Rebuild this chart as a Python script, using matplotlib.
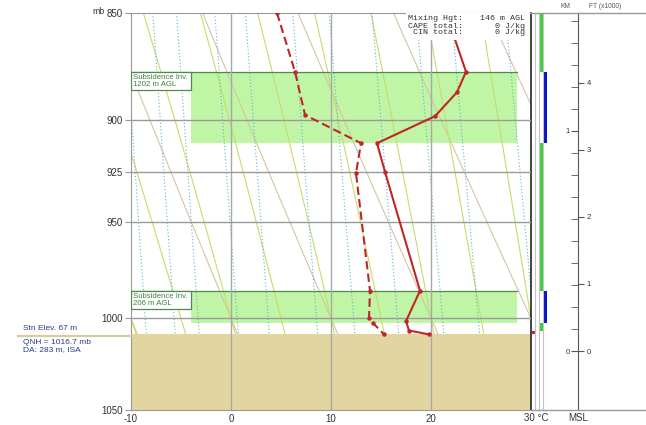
import numpy as np
import matplotlib
matplotlib.use('Agg')
import matplotlib.pyplot as plt
from matplotlib.patches import Rectangle
from matplotlib.lines import Line2D

# ---------------- data ----------------
temp_p = [850, 877, 886.6, 898, 911, 925, 985.4, 1001.5, 1006.5, 1008.6]
temp_c = [21.5, 23.5, 22.6, 20.4, 14.6, 15.4, 18.9, 17.5, 17.8, 19.8]
dew_p = [850, 877, 897.4, 911, 925.7, 985.4, 1000, 1002.5, 1008.6]
dew_c = [4.6, 6.4, 7.4, 13.0, 12.5, 13.9, 13.8, 14.2, 15.3]

inv_top_p = [877, 985.4]
inv_base_p = [911, 1002.4]
inv_labels = ['Subsidence Inv.\n1202 m AGL', 'Subsidence Inv.\n206 m AGL']
inv_x = [-4.0, 28.6]

stn_p = 1008.6
stn_text = ['Stn Elev. 67 m', 'QNH = 1016.7 mb', 'DA: 283 m, ISA']
info_labels = ['Mixing Hgt:', 'CAPE total:', 'CIN total:']
info_values = ['146 m AGL', '0 J/kg', '0 J/kg']

p_ticks = [850, 900, 925, 950, 1000, 1050]
t_ticks = [-10, 0, 10, 20]
isotherms = [0, 10, 20]
isobars = [900, 925, 950, 1000]
dry_theta = list(range(-20, 80, 10))
moist_thw = list(range(-15, 40, 5))
mix_ratios = [2, 2.5, 3, 4, 5, 7, 9, 12, 16, 20, 28]

green_segs = [(850, 877), (911, 985.4), (1002.4, 1007)]
blue_segs = [(877, 911), (985.4, 1002.4)]

km_major = [0, 1]
km_minor = list(np.round(np.arange(0, 1.55, 0.1), 2))
ft_major = [0, 1, 2, 3, 4]

# ---------------- helpers ----------------
W, H = 646, 425
def fx(x): return x / W
def fy(y): return 1 - y / H

Rd, cp, Lv, eps = 287.04, 1005.7, 2.501e6, 0.622
def es(tc): return 6.112 * np.exp(17.67 * tc / (tc + 243.5))

def moist_adiabat(thw, p_end, n=300):
    ps = np.linspace(1000.0, p_end, n)
    T = thw + 273.15
    out = [T]
    for i in range(1, n):
        p0, p1 = ps[i - 1], ps[i]
        def f(p, T):
            e = es(T - 273.15)
            rs = eps * e / (p - e)
            return (Rd * T + Lv * rs) / (cp + Lv ** 2 * rs * eps / (Rd * T ** 2)) / p
        h = p1 - p0
        k1 = f(p0, T); k2 = f(p0 + h / 2, T + h * k1 / 2)
        k3 = f(p0 + h / 2, T + h * k2 / 2); k4 = f(p1, T + h * k3)
        T = T + h * (k1 + 2 * k2 + 2 * k3 + k4) / 6
        out.append(T)
    return ps, np.array(out) - 273.15

fig = plt.figure(figsize=(6.46, 4.25), dpi=100)
fig.patch.set_facecolor('white')
plt.rcParams['font.family'] = ['Liberation Sans', 'DejaVu Sans']

ax = fig.add_axes([fx(131), fy(410), fx(531) - fx(131), 397 / H])
ax.set_yscale('log')
ax.set_ylim(1050, 850)
ax.set_xlim(-10, 30)
ax.minorticks_off()

pgrid = np.linspace(850, 1050, 200)
# dry adiabats
for th in dry_theta:
    ax.plot((th + 273.15) * (pgrid / 1000) ** 0.2857 - 273.15, pgrid,
            color='#d2c6a0', lw=0.8, zorder=1)
# moist adiabats
for thw in moist_thw:
    pu, tu = moist_adiabat(thw, 850)
    pd, td = moist_adiabat(thw, 1050)
    ax.plot(np.r_[tu[::-1], td], np.r_[pu[::-1], pd], color='#c8dc6a', lw=0.8, zorder=1)
# mixing ratio lines
for w in mix_ratios:
    e = w * pgrid / (622 + w)
    x = np.log(e / 6.112)
    ax.plot(243.5 * x / (17.67 - x), pgrid, color='#5db3d6', lw=0.8,
            ls=(0, (1, 2)), zorder=1)

# inversion layers
for top, base, lab in zip(inv_top_p, inv_base_p, inv_labels):
    ax.add_patch(Rectangle((inv_x[0], top), inv_x[1] - inv_x[0], base - top,
                           facecolor='#c0f5a5', edgecolor='none', zorder=0.5))
    ax.plot([-10, inv_x[1]], [top, top], color='#4d8a4d', lw=0.9, zorder=2)
    lb = top * np.exp(18.5 / 397 * np.log(1050 / 850))
    ax.add_patch(Rectangle((-10, top), inv_x[0] + 10, lb - top, facecolor='white',
                           edgecolor='#4d8a4d', lw=0.9, zorder=4))
    ax.text(-9.8, (top * lb) ** 0.5, lab, fontsize=5.6, color='#3f7f3f', va='center',
            ha='left', linespacing=0.95, zorder=5)

# ground
ax.add_patch(Rectangle((-10, stn_p), 40, 1050 - stn_p, facecolor='#e2d59f',
                       edgecolor='none', zorder=2))

# grid
for t in isotherms:
    ax.plot([t, t], [850, 1050], color='#a8a8a8', lw=1, zorder=3)
for p in isobars:
    ax.plot([-10, 30], [p, p], color='#9a9a9a', lw=1, zorder=3)

# profiles
ax.plot(temp_c, temp_p, color='#c02626', lw=1.5, marker='o', ms=2.2, zorder=5)
ax.plot(dew_c, dew_p, color='#c02626', lw=1.5, ls=(0, (4, 2)), marker='o', ms=2.2, zorder=5)

for s in ['left', 'top', 'bottom']:
    ax.spines[s].set_color('#999999')
ax.spines['right'].set_color('#111111')
ax.spines['right'].set_linewidth(1.1)
ax.set_yticks(p_ticks)
ax.set_yticklabels([str(p) for p in p_ticks])
ax.set_xticks(t_ticks)
ax.set_xticklabels([str(t) for t in t_ticks])
ax.tick_params(axis='y', length=4, color='#999999', labelsize=7, labelcolor='#333333', pad=2)
ax.tick_params(axis='x', length=0, labelsize=7, labelcolor='#333333', pad=3)

# info text
fig.text(fx(463), fy(26), '\n'.join(info_labels), family='Liberation Mono', fontsize=6,
         ha='right', va='center', multialignment='right', color='#333333',
         linespacing=1.0, zorder=6,
         bbox=dict(facecolor='white', edgecolor='none', pad=1.5))
fig.text(fx(525), fy(26), '\n'.join(info_values), family='Liberation Mono', fontsize=6,
         ha='right', va='center', multialignment='right', color='#333333',
         linespacing=1.0, zorder=6,
         bbox=dict(facecolor='white', edgecolor='none', pad=1.5))
ax.add_patch(Rectangle((17.5, 850), 12.4, 12.5, facecolor='white', edgecolor='none', zorder=5.5))

# left annotations
fig.add_artist(Line2D([fx(18), fx(131)], [fy(336), fy(336)], color='#d6cc9c', lw=1.6))
fig.text(fx(23), fy(329), stn_text[0], fontsize=6.0, color='#2a3a8a', va='center')
fig.text(fx(23), fy(342), stn_text[1], fontsize=6.0, color='#2a3a8a', va='center')
fig.text(fx(23), fy(350), stn_text[2], fontsize=6.0, color='#2a3a8a', va='center')
fig.text(fx(105), fy(12), 'mb', fontsize=6.3, color='#333333', va='center', ha='right')
fig.text(fx(524), fy(418), '30 °C', fontsize=7, color='#333333', va='center', ha='left')

# extended frame lines
fig.add_artist(Line2D([fx(531), fx(646)], [fy(13), fy(13)], color='#999999', lw=1))
fig.add_artist(Line2D([fx(531), fx(646)], [fy(410), fy(410)], color='#999999', lw=1))

# column panel
axc = fig.add_axes([fx(531), fy(410), fx(548) - fx(531), 397 / H])
axc.set_yscale('log')
axc.set_ylim(1050, 850)
axc.set_xlim(531, 548)
axc.axis('off')
for xv in [535, 539, 543.4, 547.7]:
    axc.plot([xv, xv], [850, 1050], color='#c4c4c4', lw=0.8)
for a, b in green_segs:
    axc.add_patch(Rectangle((539.3, a), 3.4, b - a, facecolor='#3ecf3e', edgecolor='none'))
for a, b in blue_segs:
    axc.add_patch(Rectangle((543.7, a), 3.3, b - a, facecolor='#0a14c8', edgecolor='none'))
axc.add_patch(Rectangle((531.6, 1006.8), 3.4, stn_p - 1006.8, facecolor='#d42020', edgecolor='none'))

# height axis
axh = fig.add_axes([fx(578), fy(410), 1e-4, 397 / H])
axh.set_ylim(-0.268, 1.536)
for s in ['right', 'top', 'bottom']:
    axh.spines[s].set_visible(False)
axh.spines['left'].set_color('#555555')
axh.set_xticks([])
axh.set_yticks(km_major)
axh.set_yticklabels([str(k) for k in km_major])
axh.set_yticks(km_minor, minor=True)
axh.tick_params(axis='y', which='both', length=5, color='#555555', labelsize=5.5,
                labelcolor='#333333', pad=1)
axf = axh.twinx()
axf.set_ylim(-0.268 * 3.28084, 1.536 * 3.28084)
for s in ['left', 'top', 'bottom', 'right']:
    axf.spines[s].set_visible(False)
axf.set_yticks(ft_major)
axf.set_yticklabels([str(k) for k in ft_major])
axf.tick_params(axis='y', length=4, color='#555555', labelsize=5.5, labelcolor='#333333', pad=2)

fig.text(fx(565), fy(7), 'KM', fontsize=4.8, color='#555555', ha='center', va='center')
fig.text(fx(605), fy(7), 'FT (x1000)', fontsize=4.8, color='#555555', ha='center', va='center')
fig.text(fx(578), fy(418), 'MSL', fontsize=7, color='#333333', ha='center', va='center')

fig.savefig('out.png', dpi=100, facecolor='white')
